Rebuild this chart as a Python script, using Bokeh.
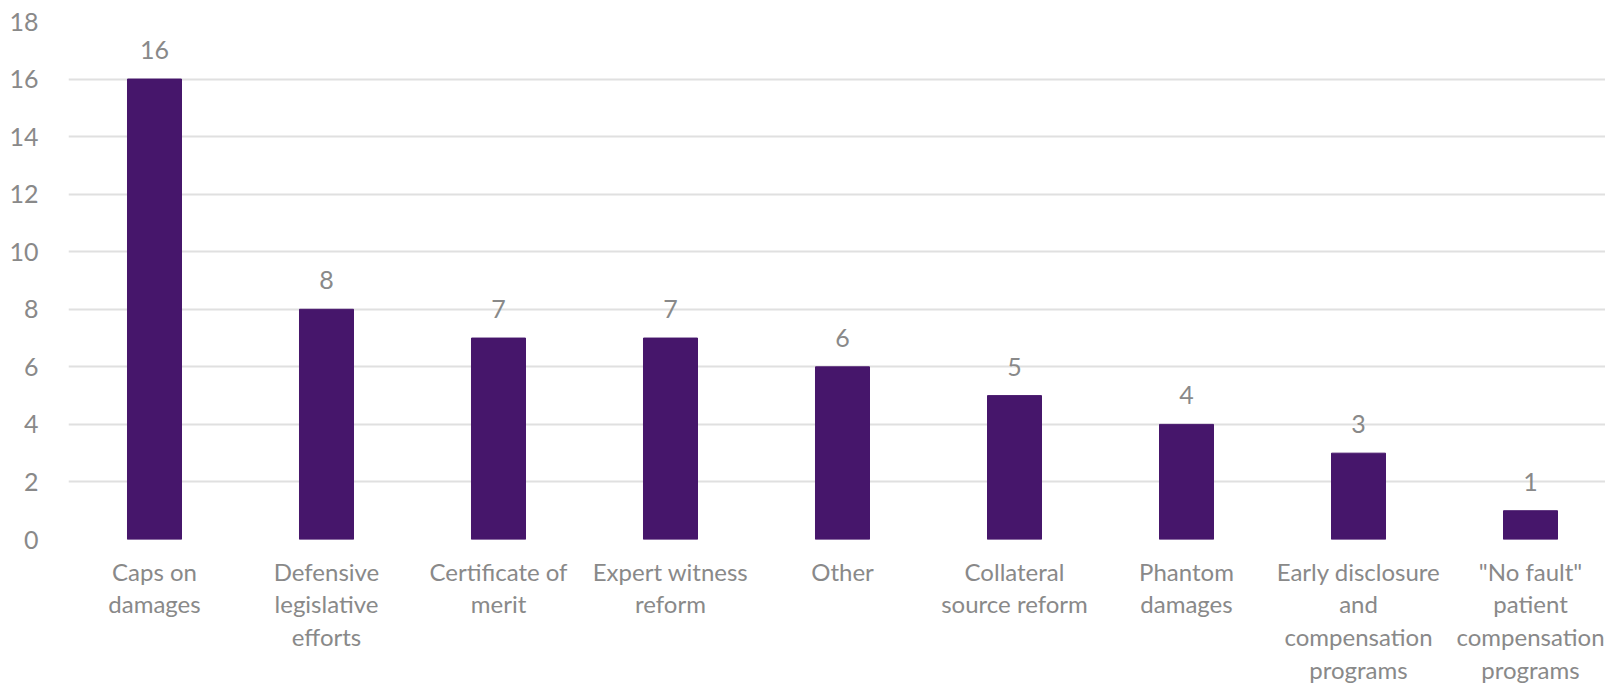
from bokeh.plotting import figure
from bokeh.models import ColumnDataSource, Range1d, FixedTicker
from bokeh.core.properties import value
from bokeh.embed import file_html
from bokeh.resources import INLINE

categories = [
    "Caps on\ndamages",
    "Defensive\nlegislative\nefforts",
    "Certificate of\nmerit",
    "Expert witness\nreform",
    "Other",
    "Collateral\nsource reform",
    "Phantom\ndamages",
    "Early disclosure\nand\ncompensation\nprograms",
    "\"No fault\"\npatient\ncompensation\nprograms",
]
counts = [16, 8, 7, 7, 6, 5, 4, 3, 1]
y_ticks = [0, 2, 4, 6, 8, 10, 12, 14, 16, 18]

FONT = "Lato"
TXT = "#898989"
BAR = "#46166B"

xs = list(range(len(categories)))
src = ColumnDataSource(dict(x=xs, top=counts, lab=[str(c) for c in counts]))

p = figure(width=1605, height=686, output_backend="svg", toolbar_location=None,
           x_range=Range1d(-0.5, 8.436), y_range=Range1d(0, 18),
           min_border_left=68, min_border_right=0, min_border_top=21, min_border_bottom=147)
p.outline_line_color = None
p.background_fill_color = "white"

p.vbar(x="x", top="top", width=0.314, bottom=0, source=src, color=BAR)
p.text(x="x", y="top", text="lab", source=src, text_align="center", text_baseline="bottom",
       y_offset=-20, text_font=value(FONT), text_font_size="25px", text_color=TXT)

p.xgrid.grid_line_color = None
p.ygrid.grid_line_color = "#E0E0E0"
p.ygrid.grid_line_width = 2

p.yaxis.ticker = FixedTicker(ticks=y_ticks)
p.yaxis.axis_line_color = None
p.yaxis.major_tick_line_color = None
p.yaxis.minor_tick_line_color = None
p.yaxis.major_tick_out = 0
p.yaxis.major_tick_in = 0
p.yaxis.major_label_standoff = 30
p.yaxis.major_label_text_font = FONT
p.yaxis.major_label_text_font_size = "25px"
p.yaxis.major_label_text_color = TXT

p.xaxis.ticker = FixedTicker(ticks=xs)
p.xaxis.major_label_overrides = {i: c for i, c in enumerate(categories)}
p.xaxis.axis_line_color = None
p.xaxis.major_tick_line_color = None
p.xaxis.minor_tick_line_color = None
p.xaxis.major_tick_out = 0
p.xaxis.major_tick_in = 0
p.xaxis.major_label_standoff = 17
p.xaxis.major_label_text_font = FONT
p.xaxis.major_label_text_font_size = "24px"
p.xaxis.major_label_text_color = TXT
p.xaxis.major_label_text_line_height = 1.13

open("out.html", "w").write(file_html(p, INLINE))
